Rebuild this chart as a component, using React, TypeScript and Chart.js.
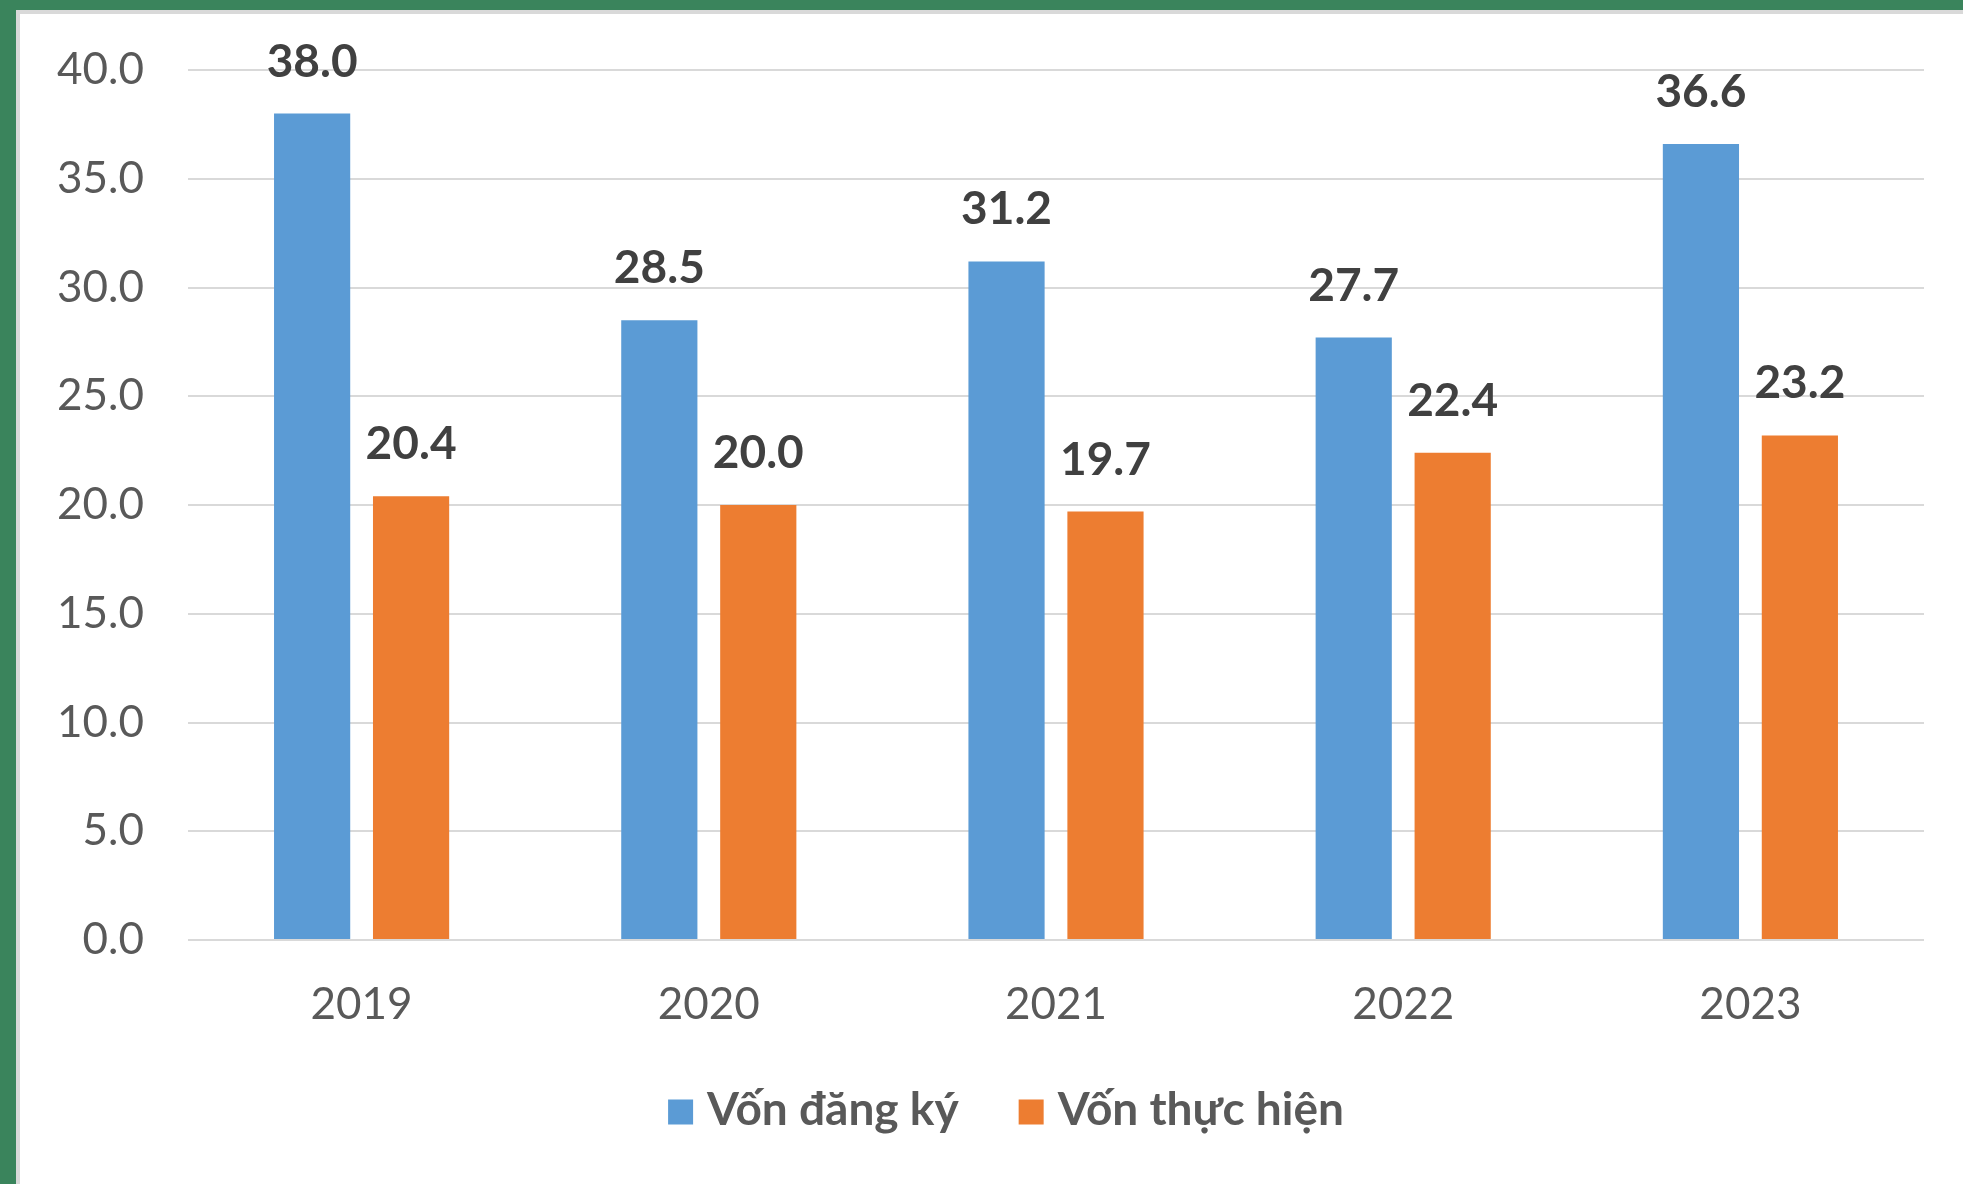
import React, { useEffect, useRef } from "react";
import { Chart, registerables } from "chart.js";

Chart.register(...registerables);

const categories = ["2019", "2020", "2021", "2022", "2023"];
const registeredCapital = [38.0, 28.5, 31.2, 27.7, 36.6];
const implementedCapital = [20.4, 20.0, 19.7, 22.4, 23.2];
const seriesNames = ["Vốn đăng ký", "Vốn thực hiện"];
const seriesColors = ["#5B9BD5", "#ED7D31"];
const yTicksMin = 0;
const yTicksMax = 40;
const yTickStep = 5;

const FONT = "Lato, 'Open Sans', sans-serif";

const valueLabels = {
  id: "valueLabels",
  afterDatasetsDraw(chart: any) {
    const ctx = chart.ctx;
    ctx.save();
    ctx.font = `bold 46px ${FONT}`;
    ctx.fillStyle = "#404040";
    ctx.textAlign = "center";
    ctx.textBaseline = "alphabetic";
    chart.data.datasets.forEach((ds: any, i: number) => {
      const meta = chart.getDatasetMeta(i);
      meta.data.forEach((bar: any, j: number) => {
        const v = ds.data[j] as number;
        ctx.fillText(v.toFixed(1), bar.x, bar.y - 37);
      });
    });
    ctx.restore();
  },
};

const bottomLegend = {
  id: "bottomLegend",
  afterDraw(chart: any) {
    const ctx = chart.ctx;
    const box = 25;
    const boxGap = 14;
    const itemGap = 60;
    const cy = 1096;
    const cx = 986;
    ctx.save();
    ctx.font = `bold 46px ${FONT}`;
    const items = chart.data.datasets.map((ds: any) => ({
      label: ds.label as string,
      color: ds.backgroundColor as string,
      w: ctx.measureText(ds.label).width,
    }));
    const total =
      items.reduce((s: number, it: any) => s + box + boxGap + it.w, 0) +
      itemGap * (items.length - 1);
    let x = cx - total / 2;
    ctx.textBaseline = "middle";
    ctx.textAlign = "left";
    items.forEach((it: any) => {
      ctx.fillStyle = it.color;
      ctx.fillRect(x, cy - box / 2 + 2, box, box);
      x += box + boxGap;
      ctx.fillStyle = "#595959";
      ctx.fillText(it.label, x, cy);
      x += it.w + itemGap;
    });
    ctx.restore();
  },
};

export default function App() {
  const ref = useRef<HTMLCanvasElement | null>(null);
  useEffect(() => {
    if (!ref.current) return;
    const chart = new Chart(ref.current, {
      type: "bar",
      data: {
        labels: categories,
        datasets: [
          {
            label: seriesNames[0],
            data: registeredCapital,
            backgroundColor: seriesColors[0],
            categoryPercentage: 0.57,
            barPercentage: 0.77,
          },
          {
            label: seriesNames[1],
            data: implementedCapital,
            backgroundColor: seriesColors[1],
            categoryPercentage: 0.57,
            barPercentage: 0.77,
          },
        ],
      },
      options: {
        animation: false,
        responsive: false,
        devicePixelRatio: 1,
        layout: { padding: { top: 56, right: 39, bottom: 135, left: 0 } },
        plugins: {
          legend: { display: false },
          tooltip: { enabled: false },
        },
        scales: {
          x: {
            grid: { display: false, drawTicks: false },
            border: { display: false },
            ticks: {
              color: "#595959",
              padding: 38,
              font: { family: FONT, size: 44 },
            },
            afterFit(scale: any) {
              scale.height = 109;
              scale.paddingLeft = 0;
              scale.paddingRight = 0;
            },
          },
          y: {
            min: yTicksMin,
            max: yTicksMax,
            grid: { color: "#d9d9d9", lineWidth: 2, drawTicks: false },
            border: { display: false },
            ticks: {
              stepSize: yTickStep,
              color: "#595959",
              padding: 44,
              font: { family: FONT, size: 44 },
              callback: (v: any) => Number(v).toFixed(1),
            },
            afterFit(scale: any) {
              scale.width = 168;
              scale.paddingTop = 0;
              scale.paddingBottom = 0;
            },
          },
        },
      },
      plugins: [valueLabels, bottomLegend],
    });
    return () => chart.destroy();
  }, []);

  return (
    <div
      style={{
        position: "fixed",
        left: 0,
        top: 0,
        width: 1963,
        height: 1184,
        background: "#3a845c",
        overflow: "hidden",
      }}
    >
      <div
        style={{
          position: "absolute",
          left: 16,
          top: 10,
          width: 1947,
          height: 1174,
          background: "#d9d9d9",
        }}
      />
      <div
        style={{
          position: "absolute",
          left: 20,
          top: 14,
          width: 1943,
          height: 1170,
          background: "#ffffff",
        }}
      >
        <canvas ref={ref} width={1943} height={1170} style={{ display: "block" }} />
      </div>
    </div>
  );
}
